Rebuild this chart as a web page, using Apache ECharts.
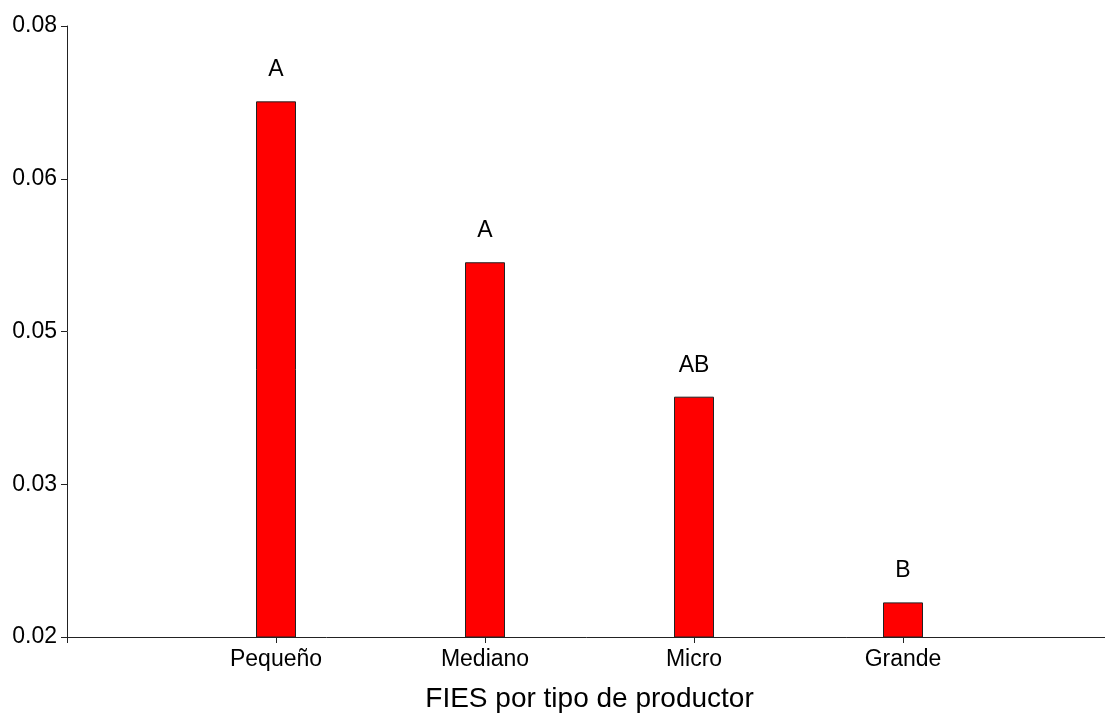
<!DOCTYPE html>
<html>
<head>
<meta charset="utf-8">
<script src="https://cdn.jsdelivr.net/npm/echarts@6/dist/echarts.min.js"></script>
<style>
  html, body { margin: 0; padding: 0; background: #fff; }
  #chart { width: 1105px; height: 714px; }
</style>
</head>
<body>
<div id="chart"></div>
<script>
// data
const categories = ["Pequeño", "Mediano", "Micro", "Grande"];
const values = [0.0726, 0.0568, 0.0436, 0.0234];
const letters = ["A", "A", "AB", "B"];
const yTickLabels = ["0.02", "0.03", "0.05", "0.06", "0.08"];

document.addEventListener("DOMContentLoaded", function () {
    let chart = echarts.init(document.getElementById("chart"));

    // empty slot on each side so the bars sit at positions 1..4
    let axisData = [""].concat(categories, [""]);
    let seriesData = [null].concat(values.map((v, i) => ({
        value: v,
        label: { formatter: letters[i] }
    })), [null]);

    let option = {
        animation: false,
        textStyle: { fontFamily: "Liberation Sans, Arial, sans-serif" },
        grid: {
            left: 67,
            right: -7,
            top: 26,
            bottom: 77,
            containLabel: false,
            outerBoundsMode: "none"
        },
        xAxis: {
            type: "category",
            data: axisData,
            boundaryGap: false,
            name: "FIES por tipo de productor",
            nameLocation: "middle",
            nameGap: 48,
            nameTextStyle: { fontSize: 28, color: "#000" },
            axisLine: { lineStyle: { color: "#222", width: 1 } },
            axisTick: { show: true, length: 6, interval: 0, lineStyle: { color: "#222" } },
            axisLabel: { interval: 0, fontSize: 23, color: "#000", margin: 11 },
            splitLine: { show: false }
        },
        yAxis: {
            type: "value",
            min: 0.02,
            max: 0.08,
            interval: 0.015,
            axisLine: { show: true, lineStyle: { color: "#222", width: 1 } },
            axisTick: { show: true, length: 6, lineStyle: { color: "#222" } },
            axisLabel: {
                fontSize: 23,
                color: "#000",
                margin: 10,
                formatter: function (value, index) {
                    return yTickLabels[index] !== undefined ? yTickLabels[index] : value;
                }
            },
            splitLine: { show: false }
        },
        series: [
            {
                type: "bar",
                data: seriesData,
                barWidth: 40,
                itemStyle: {
                    color: "#ff0000",
                    borderColor: "#222",
                    borderWidth: 1
                },
                label: {
                    show: true,
                    position: "top",
                    distance: 20,
                    fontSize: 23,
                    color: "#000"
                }
            }
        ]
    };
    chart.setOption(option);
});
</script>
</body>
</html>
